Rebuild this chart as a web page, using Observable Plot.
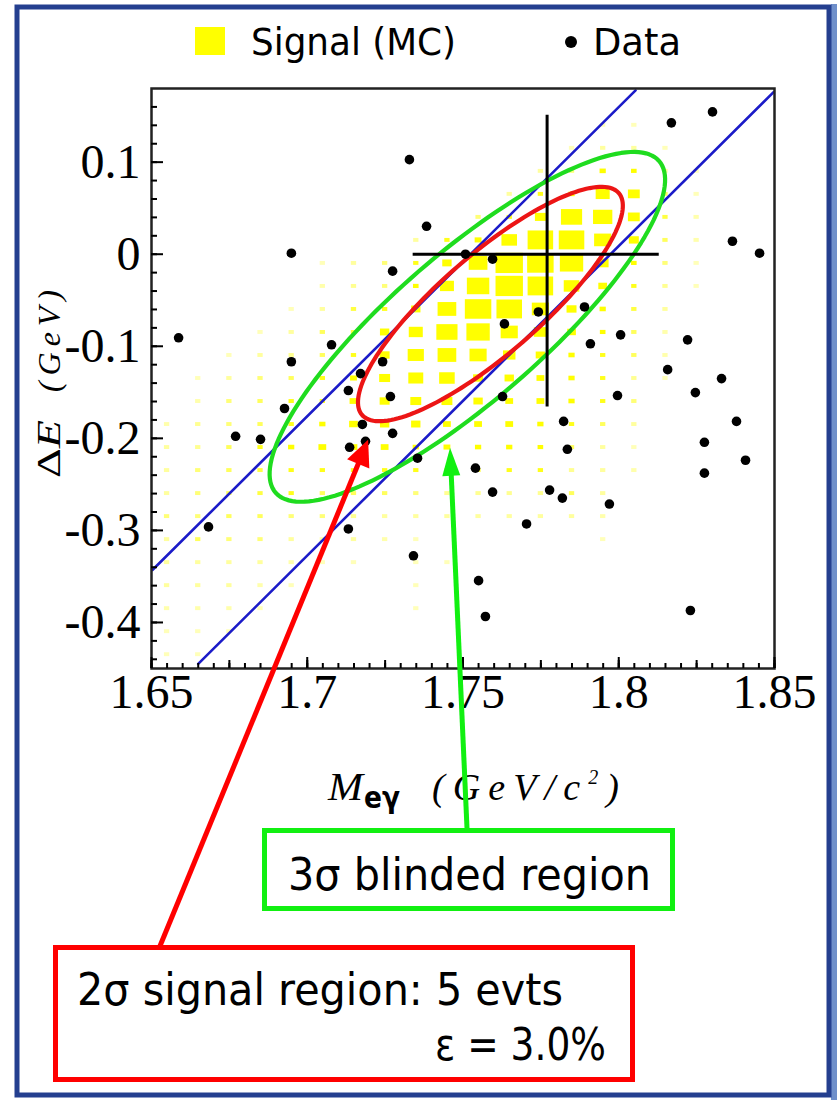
<!DOCTYPE html>
<html><head><meta charset="utf-8">
<script src="https://cdn.jsdelivr.net/npm/d3@7"></script>
<script src="https://cdn.jsdelivr.net/npm/@observablehq/plot@0.6"></script>
<style>
html,body{margin:0;padding:0;background:#fff;}
#page{position:relative;width:837px;height:1100px;overflow:hidden;background:#fff;}
#page > svg{position:absolute;left:0;top:0;}
</style></head><body><div id="page"></div>
<script>
// ---- bin centres of the MC histogram ----
const massBins = [1.655,1.665,1.675,1.685,1.695,1.705,1.715,1.725,1.735,1.745,1.755,1.765,1.775,1.785,1.795,1.805,1.815,1.825,1.835,1.845];
const deltaEBins = [0.165,0.14,0.115,0.09,0.065,0.04,0.015,-0.01,-0.035,-0.06,-0.085,-0.11,-0.135,-0.16,-0.185,-0.21,-0.235,-0.26,-0.285,-0.31,-0.335,-0.36,-0.385,-0.41,-0.435];
const massBinWidth = 0.01, deltaEBinWidth = 0.025;
// relative box size per bin (rows follow deltaEBins, columns follow massBins)
const signalMC = [
 [0,0,0,0,0,0,0,0,0,0,0,0,0,0,0,0,0,0,0,0],
 [0,0,0,0,0,0,0,0,0,0,0,0,0,0,.03,.03,0,0,0,0],
 [0,0,0,0,0,0,0,0,0,0,0,0,0,.03,.05,.05,.03,0,0,0],
 [0,0,0,0,0,0,0,0,0,0,0,0,.05,.08,.2,.18,.05,.03,0,0],
 [0,0,0,0,0,0,0,0,0,0,0,.05,.15,.2,.45,.38,.1,.03,0,0],
 [0,0,0,0,0,0,0,0,0,0,.08,.15,.35,.68,.62,.38,.12,.04,0,0],
 [0,0,0,0,0,0,0,0,.05,.15,.22,.5,.82,.82,.55,.32,.1,.04,0,0],
 [0,0,0,0,0,.03,.05,.08,.15,.3,.6,.88,.85,.75,.38,.18,.08,.03,0,0],
 [0,0,0,0,0,.04,.06,.08,.18,.45,.72,.88,.82,.5,.28,.15,.06,.03,0,0],
 [0,0,0,0,.03,.05,.12,.15,.3,.6,.85,.82,.55,.32,.2,.12,.05,0,0,0],
 [0,0,0,.03,.05,.1,.12,.3,.45,.68,.75,.55,.42,.28,.18,.1,.04,0,0,0],
 [0,0,.03,.05,.06,.1,.15,.32,.52,.6,.55,.4,.3,.2,.15,.1,.04,0,0,0],
 [0,.03,.05,.08,.1,.15,.22,.35,.48,.5,.32,.3,.25,.2,.15,.06,.03,0,0,0],
 [0,.04,.08,.1,.15,.15,.25,.32,.35,.35,.3,.25,.25,.2,.15,.08,0,0,0,0],
 [.04,.06,.08,.1,.15,.2,.28,.3,.3,.25,.25,.25,.2,.15,.1,.05,0,0,0,0],
 [.05,.06,.1,.15,.2,.25,.25,.25,.2,.22,.2,.2,.18,.1,.05,.03,0,0,0,0],
 [.05,.08,.1,.12,.15,.15,.15,.15,.15,.1,.1,.15,.15,.06,.05,.04,0,0,0,0],
 [.05,.08,.1,.12,.15,.1,.1,.1,.08,.06,.06,.06,.06,.1,.05,0,0,0,0,0],
 [.08,.08,.1,.1,.08,.08,.06,.05,.05,.05,.05,.05,.05,.05,.04,0,0,0,0,0],
 [.05,.1,.08,.08,.05,.04,.05,.04,.03,0,0,0,0,0,.03,0,0,0,0,0],
 [.05,.05,.05,.05,.04,.03,.03,0,.03,.03,0,0,0,0,0,0,0,0,0,0],
 [.05,.05,.05,.04,.03,0,0,0,.03,0,0,0,0,0,0,0,0,0,0,0],
 [.04,.04,.04,.03,0,0,0,0,.03,0,0,0,0,0,0,0,0,0,0,0],
 [.03,.03,.03,0,0,0,0,0,0,0,0,0,0,0,0,0,0,0,0,0],
 [.03,.03,0,0,0,0,0,0,0,0,0,0,0,0,0,0,0,0,0,0]
];
// ---- data events ----
const dataMass = [1.7328,1.7383,1.6949,1.7274,1.7508,1.7595,1.6587,1.7078,1.6949,1.7242,1.7171,1.7132,1.7267,1.6927,1.7177,1.6770,1.6850,1.7136,1.7187,1.7274,1.7354,1.7540,1.7595,1.6683,1.7132,1.7341,1.7550,1.7572,1.8169,1.8301,1.8365,1.8452,1.7742,1.7633,1.7890,1.7909,1.8006,1.8221,1.8157,1.8330,1.8246,1.7996,1.7627,1.7823,1.8378,1.7835,1.8275,1.8407,1.8275,1.7778,1.7819,1.7970,1.7704,1.8230];
const dataDeltaE = [0.1027,0.0303,0.0011,-0.0184,0,-0.0054,-0.0908,-0.0984,-0.1168,-0.1168,-0.1297,-0.1481,-0.1546,-0.1676,-0.1849,-0.1978,-0.2011,-0.2097,-0.2032,-0.1946,-0.2216,-0.2324,-0.2584,-0.2962,-0.2984,-0.3276,-0.3546,-0.3935,0.1427,0.1546,0.0141,0.0011,-0.0627,-0.0757,-0.0573,-0.0973,-0.0876,-0.0930,-0.1254,-0.1351,-0.1503,-0.1535,-0.1546,-0.1816,-0.1816,-0.2119,-0.2043,-0.2238,-0.2378,-0.2562,-0.2649,-0.2714,-0.2930,-0.3870];
// ---- blue band lines (two end points each) ----
const bandUpperMass = [1.6503, 1.8054], bandUpperDeltaE = [-0.343, 0.178];
const bandLowerMass = [1.665, 1.8497], bandLowerDeltaE = [-0.445, 0.176];
// ---- crosshair ----
const crossMass = 1.777, crossDeltaE = 0;
const crossMassSpan = [1.734, 1.813], crossDeltaESpan = [-0.166, 0.151];
// ---- ellipses: centre, major and minor semi-axis vectors (GeV/c^2, GeV) ----
const ellipse2Centre = [1.7588, -0.0541], ellipse2Major = [0.04119, 0.12058], ellipse2Minor = [0.01053, -0.04079];
const ellipse3Centre = [1.7514, -0.0789], ellipse3Major = [0.06154, 0.18016], ellipse3Minor = [0.01559, -0.06038];
// ---- tick labels ----
const xMajorTicks = [1.65, 1.7, 1.75, 1.8, 1.85];
const yMajorTicks = [-0.4, -0.3, -0.2, -0.1, 0, 0.1];
// ---- arrow tips (data coordinates) ----
const arrowGreenTip = [1.7460, -0.2108];
const arrowRedTip = [1.7197, -0.2022];

const cells = [];
deltaEBins.forEach((e, j) => massBins.forEach((m, i) => {
  const f = signalMC[j][i];
  if (f > 0) cells.push({m, e, f});
}));
const events = dataMass.map((m, k) => ({m, e: dataDeltaE[k]}));
const band = (ms, es) => ms.map((m, k) => ({m, e: es[k]}));
function ellipse(c, u, v) {
  return d3.range(161).map(k => {
    const t = 2 * Math.PI * k / 160;
    return {m: c[0] + u[0]*Math.cos(t) + v[0]*Math.sin(t), e: c[1] + u[1]*Math.cos(t) + v[1]*Math.sin(t)};
  });
}
const minBox = 0.17;
const sz = d => Math.max(d.f, minBox);
const xMinor = d3.range(0, 41).map(k => +(1.65 + k*0.005).toFixed(3));
const xMedium = d3.range(0, 9).map(k => +(1.65 + k*0.025).toFixed(3));
const yMinor = d3.range(-22, 9).map(k => +(k*0.02).toFixed(2));

const plot = Plot.plot({
  width: 837, height: 1100,
  marginLeft: 151, marginRight: 63, marginTop: 88, marginBottom: 432,
  style: {background: "transparent", fontFamily: "Liberation Serif", color: "black", overflow: "visible"},
  x: {domain: [1.65, 1.85]},
  y: {domain: [-0.45, 0.18]},
  marks: [
    Plot.rect(cells, {
      x1: d => d.m - sz(d)*massBinWidth/2, x2: d => d.m + sz(d)*massBinWidth/2,
      y1: d => d.e - sz(d)*deltaEBinWidth/2, y2: d => d.e + sz(d)*deltaEBinWidth/2,
      fill: "#ffff00", fillOpacity: d => Math.min(1, 0.12 + 0.88 * d.f / minBox)
    }),
    Plot.line(band(bandUpperMass, bandUpperDeltaE), {x: "m", y: "e", stroke: "#1b1bc8", strokeWidth: 2.6, clip: true}),
    Plot.line(band(bandLowerMass, bandLowerDeltaE), {x: "m", y: "e", stroke: "#1b1bc8", strokeWidth: 2.6, clip: true}),
    Plot.line(ellipse(ellipse3Centre, ellipse3Major, ellipse3Minor), {x: "m", y: "e", stroke: "#1fdc1f", strokeWidth: 4.2}),
    Plot.line(ellipse(ellipse2Centre, ellipse2Major, ellipse2Minor), {x: "m", y: "e", stroke: "#ec1515", strokeWidth: 4.2}),
    Plot.dot(events, {x: "m", y: "e", r: 4.8, fill: "black"}),
    Plot.ruleX([crossMass], {y1: crossDeltaESpan[0], y2: crossDeltaESpan[1], stroke: "black", strokeWidth: 3}),
    Plot.ruleY([crossDeltaE], {x1: crossMassSpan[0], x2: crossMassSpan[1], stroke: "black", strokeWidth: 3}),
    Plot.frame({stroke: "#222", strokeWidth: 2.5}),
    Plot.axisX({ticks: xMinor, tickSize: 5, dy: -5, tickFormat: () => "", label: null, strokeWidth: 2}),
    Plot.axisX({ticks: xMedium, tickSize: 8, dy: -8, tickFormat: () => "", label: null, strokeWidth: 2}),
    Plot.axisX({ticks: xMajorTicks, tickSize: 11, dy: -11, tickPadding: 5, fontSize: 48, tickFormat: d => String(d), label: null, strokeWidth: 2}),
    Plot.axisY({ticks: yMinor, tickSize: 6, dx: 6, tickFormat: () => "", label: null, strokeWidth: 2}),
    Plot.axisY({ticks: yMajorTicks, tickSize: 12, dx: 12, tickPadding: 11, fontSize: 48, tickFormat: d => d === 0 ? "0" : String(d), label: null, strokeWidth: 2})
  ]
});
const page = document.getElementById("page");
page.appendChild(plot);

const sx = plot.scale("x"), sy = plot.scale("y");
const ns = "http://www.w3.org/2000/svg";
const ov = d3.select(page).append("svg").attr("width", 837).attr("height", 1100).attr("xmlns", ns);

// outer frame
ov.append("rect").attr("x", 831).attr("y", 4).attr("width", 6).attr("height", 1096).attr("fill", "#6f8fca");
ov.append("rect").attr("x", 17).attr("y", 7).attr("width", 812).attr("height", 1088)
  .attr("fill", "none").attr("stroke", "#243f8f").attr("stroke-width", 5);

// legend
ov.append("rect").attr("x", 195).attr("y", 27).attr("width", 30).attr("height", 28).attr("fill", "#ffff00");
ov.append("text").attr("x", 251).attr("y", 55).attr("font-family", "DejaVu Sans").attr("font-size", 37)
  .attr("textLength", 205).attr("lengthAdjust", "spacingAndGlyphs").text("Signal (MC)");
ov.append("circle").attr("cx", 571).attr("cy", 42).attr("r", 6).attr("fill", "black");
ov.append("text").attr("x", 593).attr("y", 55).attr("font-family", "DejaVu Sans").attr("font-size", 37)
  .attr("textLength", 88).attr("lengthAdjust", "spacingAndGlyphs").text("Data");

// y axis title
const yt = ov.append("g").attr("transform", "translate(60,384) rotate(-90)");
const t1 = yt.append("text").attr("x", -94).attr("y", 0).attr("font-size", 34).attr("textLength", 58).attr("lengthAdjust", "spacingAndGlyphs");
t1.append("tspan").attr("font-family", "Liberation Serif").text("Δ");
t1.append("tspan").attr("font-family", "Liberation Serif").attr("font-style", "italic").text("E");
yt.append("text").attr("x", -8).attr("y", 0).attr("font-size", 32).attr("font-family", "Liberation Serif").attr("font-style", "italic")
  .attr("textLength", 102).attr("lengthAdjust", "spacing").text("(GeV)");

// x axis title
ov.append("text").attr("x", 328).attr("y", 800).attr("font-family", "Liberation Serif").attr("font-style", "italic")
  .attr("font-size", 40).attr("textLength", 35).attr("lengthAdjust", "spacingAndGlyphs").text("M");
ov.append("text").attr("x", 364).attr("y", 808).attr("font-family", "DejaVu Sans").attr("font-weight", "bold")
  .attr("font-size", 30).attr("textLength", 36).attr("lengthAdjust", "spacingAndGlyphs").text("eγ");
const xt = ov.append("text").attr("x", 432).attr("y", 800).attr("font-family", "Liberation Serif").attr("font-style", "italic")
  .attr("font-size", 38).attr("textLength", 187).attr("lengthAdjust", "spacing");
xt.append("tspan").text("(GeV/c");
xt.append("tspan").attr("font-size", 20).attr("dy", -16).text("2");
xt.append("tspan").attr("dy", 16).text(")");

// arrows (tips on the library's scales, tails on the boxes)
function arrow(tail, tipData, color, width, headLen, headHalf) {
  const tip = [sx.apply(tipData[0]), sy.apply(tipData[1])];
  const dx = tip[0] - tail[0], dy = tip[1] - tail[1], L = Math.hypot(dx, dy);
  const ux = dx / L, uy = dy / L;
  const base = [tip[0] - ux * headLen, tip[1] - uy * headLen];
  ov.append("line").attr("x1", tail[0]).attr("y1", tail[1]).attr("x2", base[0] + ux*2).attr("y2", base[1] + uy*2)
    .attr("stroke", color).attr("stroke-width", width);
  ov.append("polygon").attr("fill", color).attr("points", [
    tip, [base[0] - uy*headHalf, base[1] + ux*headHalf], [base[0] + uy*headHalf, base[1] - ux*headHalf]
  ].map(p => p.join(",")).join(" "));
}
arrow([467, 828], arrowGreenTip, "#11f011", 5, 28, 9);
arrow([160, 946], arrowRedTip, "#ff0000", 5, 26, 12);

// annotation boxes
ov.append("rect").attr("x", 264.5).attr("y", 830.5).attr("width", 408).attr("height", 78)
  .attr("fill", "white").attr("stroke", "#11f011").attr("stroke-width", 5);
ov.append("text").attr("x", 288).attr("y", 890).attr("font-family", "DejaVu Sans").attr("font-size", 45)
  .attr("textLength", 363).attr("lengthAdjust", "spacingAndGlyphs").text("3σ blinded region");
ov.append("rect").attr("x", 55.5).attr("y", 947.5).attr("width", 577).attr("height", 132)
  .attr("fill", "white").attr("stroke", "#ff0000").attr("stroke-width", 5);
ov.append("text").attr("x", 77).attr("y", 1005).attr("font-family", "DejaVu Sans").attr("font-size", 45)
  .attr("textLength", 486).attr("lengthAdjust", "spacingAndGlyphs").text("2σ signal region: 5 evts");
ov.append("text").attr("x", 435).attr("y", 1060).attr("font-family", "DejaVu Sans").attr("font-size", 45)
  .attr("textLength", 171).attr("lengthAdjust", "spacingAndGlyphs").text("ε = 3.0%");
</script></body></html>
